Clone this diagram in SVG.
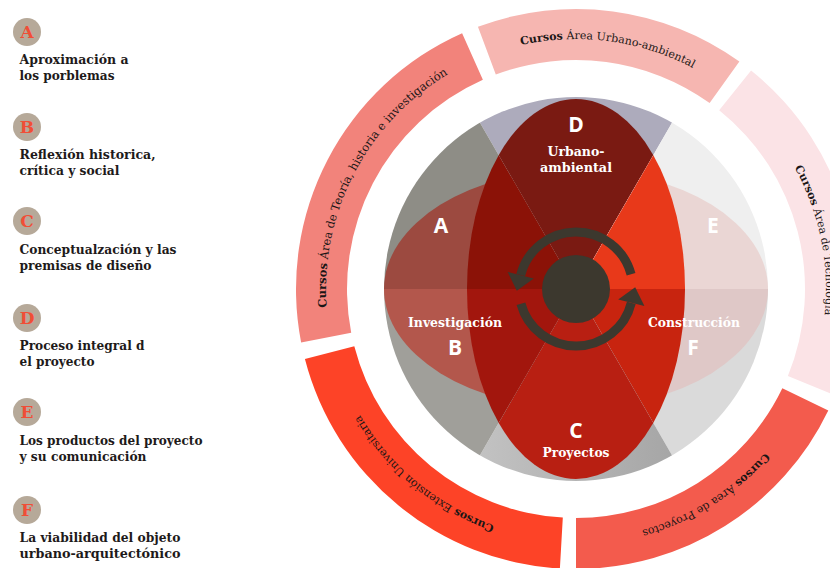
<svg xmlns="http://www.w3.org/2000/svg" width="830" height="568" viewBox="0 0 830 568">
<style>
.lg-circle{fill:#B6A999}
.lg-letter{font-family:"DejaVu Serif",serif;font-weight:bold;font-size:17px;fill:#F04E37;text-anchor:middle}
.lg-text{font-family:"DejaVu Serif",serif;font-weight:bold;font-size:12.5px;fill:#1E1A1A}
.ring-text{font-family:"DejaVu Serif",serif;font-size:11px;fill:#1A1616}
.b{font-weight:bold}
.disc-letter{font-family:"Open Sans","DejaVu Sans",sans-serif;font-weight:bold;font-size:21px;fill:#FFFFFF;text-anchor:middle}
.disc-label{font-family:"DejaVu Serif",serif;font-weight:bold;font-size:12.5px;fill:#FFFFFF;text-anchor:middle}
.arrow{fill:none;stroke:#3C382E;stroke-width:9}
.arrowhead{fill:#3C382E}
</style>
<defs>
<clipPath id="s1"><polygon points="576,289 426,29.2 576,-11 726,29.2"/></clipPath>
<clipPath id="s2"><polygon points="576,289 726,29.2 835.8,139 876,289"/></clipPath>
<clipPath id="s3"><polygon points="576,289 876,289 835.8,439 726,548.8"/></clipPath>
<clipPath id="s4"><polygon points="576,289 726,548.8 576,589 426,548.8"/></clipPath>
<clipPath id="s5"><polygon points="576,289 426,548.8 316.2,439 276,289"/></clipPath>
<clipPath id="s6"><polygon points="576,289 276,289 316.2,139 426,29.2"/></clipPath>
<linearGradient id="g4" x1="480" y1="0" x2="672" y2="0" gradientUnits="userSpaceOnUse">
<stop offset="0" stop-color="#C2C2C2"/>
<stop offset="1" stop-color="#A6A6A6"/>
</linearGradient>
<path id="p-teoria" d="M330.59,336.70 A250,250 0 0 1 474.31,60.61"/>
<path id="p-urbano" d="M488.45,54.83 A250,250 0 0 1 721.89,85.98"/>
<path id="p-tecno" d="M732.31,93.89 A250,250 0 0 1 807.30,383.87"/>
<path id="p-proy" d="M801.27,397.42 A250,250 0 0 1 576,539"/>
<path id="p-ext" d="M561.61,538.59 A250,250 0 0 1 333.96,351.60"/>
</defs>
<rect x="0" y="0" width="830" height="568" fill="#FFFFFF"/>

<!-- Legend -->
<g id="legend-A">
<circle class="lg-circle" cx="27" cy="32" r="14"/>
<text class="lg-letter" x="27" y="38">A</text>
<text class="lg-text" x="19.5" y="64" textLength="109" lengthAdjust="spacingAndGlyphs">Aproximación a</text>
<text class="lg-text" x="19.5" y="80" textLength="95" lengthAdjust="spacingAndGlyphs">los porblemas</text>
</g>
<g id="legend-B">
<circle class="lg-circle" cx="27" cy="127" r="14"/>
<text class="lg-letter" x="27" y="133">B</text>
<text class="lg-text" x="19.5" y="159" textLength="136" lengthAdjust="spacingAndGlyphs">Reflexión historica,</text>
<text class="lg-text" x="19.5" y="175" textLength="100" lengthAdjust="spacingAndGlyphs">crítica y social</text>
</g>
<g id="legend-C">
<circle class="lg-circle" cx="27" cy="221" r="14"/>
<text class="lg-letter" x="27" y="227">C</text>
<text class="lg-text" x="19.5" y="254" textLength="157" lengthAdjust="spacingAndGlyphs">Conceptualzación y las</text>
<text class="lg-text" x="19.5" y="270" textLength="132" lengthAdjust="spacingAndGlyphs">premisas de diseño</text>
</g>
<g id="legend-D">
<circle class="lg-circle" cx="27" cy="318" r="14"/>
<text class="lg-letter" x="27" y="324">D</text>
<text class="lg-text" x="19.5" y="350" textLength="125" lengthAdjust="spacingAndGlyphs">Proceso integral d</text>
<text class="lg-text" x="19.5" y="366" textLength="75" lengthAdjust="spacingAndGlyphs">el proyecto</text>
</g>
<g id="legend-E">
<circle class="lg-circle" cx="27" cy="412" r="14"/>
<text class="lg-letter" x="27" y="418">E</text>
<text class="lg-text" x="19.5" y="445" textLength="183" lengthAdjust="spacingAndGlyphs">Los productos del proyecto</text>
<text class="lg-text" x="19.5" y="461" textLength="127" lengthAdjust="spacingAndGlyphs">y su comunicación</text>
</g>
<g id="legend-F">
<circle class="lg-circle" cx="27" cy="510" r="14"/>
<text class="lg-letter" x="27" y="516">F</text>
<text class="lg-text" x="19.5" y="542" textLength="161" lengthAdjust="spacingAndGlyphs">La viabilidad del objeto</text>
<text class="lg-text" x="19.5" y="558" textLength="161" lengthAdjust="spacingAndGlyphs">urbano-arquitectónico</text>
</g>

<!-- Outer ring -->
<g id="ring-teoria">
<path d="M301.14,342.43 A280,280 0 0 1 462.11,33.21 L482.86,79.80 A229,229 0 0 0 351.21,332.70 Z" fill="#F2837B"/>
<text class="ring-text" style="font-size:11.5px"><textPath href="#p-teoria" startOffset="50%" text-anchor="middle"><tspan class="b">Cursos</tspan> Área de Teoría, historia e investigación</textPath></text>
</g>
<g id="ring-urbano">
<path d="M477.94,26.73 A280,280 0 0 1 739.39,61.62 L709.63,103.03 A229,229 0 0 0 495.80,74.50 Z" fill="#F6B6B1"/>
<text class="ring-text"><textPath href="#p-urbano" startOffset="50%" text-anchor="middle"><tspan class="b">Cursos</tspan> Área Urbano-ambiental</textPath></text>
</g>
<g id="ring-tecnologia">
<path d="M751.07,70.48 A280,280 0 0 1 835.06,395.25 L787.87,375.90 A229,229 0 0 0 719.18,110.28 Z" fill="#FBE3E6"/>
<text class="ring-text"><textPath href="#p-tecno" startOffset="97"><tspan class="b">Cursos</tspan> Área de Tecnología</textPath></text>
</g>
<g id="ring-proyectos">
<path d="M828.30,410.42 A280,280 0 0 1 576,569 L576,518 A229,229 0 0 0 782.35,388.31 Z" fill="#F35B4D"/>
<text class="ring-text"><textPath href="#p-proy" startOffset="50%" text-anchor="middle"><tspan class="b">Cursos</tspan> Área de Proyectos</textPath></text>
</g>
<g id="ring-extension">
<path d="M559.88,568.54 A280,280 0 0 1 304.92,359.11 L354.29,346.34 A229,229 0 0 0 562.82,517.62 Z" fill="#FD4327"/>
<text class="ring-text"><textPath href="#p-ext" startOffset="50%" text-anchor="middle"><tspan class="b">Cursos</tspan> Extensión Universitaria</textPath></text>
</g>

<!-- Inner disc -->
<g id="disc">
<g clip-path="url(#s1)">
<circle cx="576" cy="289" r="192" fill="#ADABBC"/>
<ellipse cx="576" cy="289" rx="109" ry="190" fill="#7A1A12"/>
</g>
<g clip-path="url(#s2)">
<circle cx="576" cy="289" r="192" fill="#EFEFEF"/>
<ellipse cx="576" cy="289" rx="192" ry="119" fill="#EAD6D4"/>
<ellipse cx="576" cy="289" rx="109" ry="190" fill="#E8391A"/>
</g>
<g clip-path="url(#s3)">
<circle cx="576" cy="289" r="192" fill="#DADADA"/>
<ellipse cx="576" cy="289" rx="192" ry="119" fill="#DFC8C7"/>
<ellipse cx="576" cy="289" rx="109" ry="190" fill="#C8240F"/>
</g>
<g clip-path="url(#s4)">
<circle cx="576" cy="289" r="192" fill="url(#g4)"/>
<ellipse cx="576" cy="289" rx="109" ry="190" fill="#B81F12"/>
</g>
<g clip-path="url(#s5)">
<circle cx="576" cy="289" r="192" fill="#A09F9A"/>
<ellipse cx="576" cy="289" rx="192" ry="119" fill="#B3574C"/>
<ellipse cx="576" cy="289" rx="109" ry="190" fill="#A2160D"/>
</g>
<g clip-path="url(#s6)">
<circle cx="576" cy="289" r="192" fill="#8E8D86"/>
<ellipse cx="576" cy="289" rx="192" ry="119" fill="#9C4A40"/>
<ellipse cx="576" cy="289" rx="109" ry="190" fill="#8B1207"/>
</g>
</g>

<g id="node-D">
<text class="disc-letter" x="576" y="131.5">D</text>
<text class="disc-label" x="576" y="156" textLength="57" lengthAdjust="spacingAndGlyphs">Urbano-</text>
<text class="disc-label" x="576" y="172" textLength="72" lengthAdjust="spacingAndGlyphs">ambiental</text>
</g>
<g id="node-A">
<text class="disc-letter" x="441" y="232.5">A</text>
</g>
<g id="node-E">
<text class="disc-letter" x="713" y="232.5">E</text>
</g>
<g id="node-B">
<text class="disc-label" x="455" y="327" textLength="94" lengthAdjust="spacingAndGlyphs">Investigación</text>
<text class="disc-letter" x="455" y="354.5">B</text>
</g>
<g id="node-F">
<text class="disc-label" x="694" y="327" textLength="92" lengthAdjust="spacingAndGlyphs">Construcción</text>
<text class="disc-letter" x="693" y="355">F</text>
</g>
<g id="node-C">
<text class="disc-letter" x="576" y="437.5">C</text>
<text class="disc-label" x="576" y="456.5" textLength="67" lengthAdjust="spacingAndGlyphs">Proyectos</text>
</g>

<g id="node-center">
<circle cx="576" cy="289" r="34" fill="#3C382E"/>
</g>

<g id="connectors">
<path class="arrow" d="M631.06,274.25 A57,57 0 0 0 520.69,275.21"/>
<polygon class="arrowhead" points="507.59,271.95 533.79,278.48 516.82,290.73"/>
<path class="arrow" d="M520.94,303.75 A57,57 0 0 0 631.31,302.79"/>
<polygon class="arrowhead" points="644.41,306.06 618.21,299.52 635.18,287.27"/>
</g>
</svg>
